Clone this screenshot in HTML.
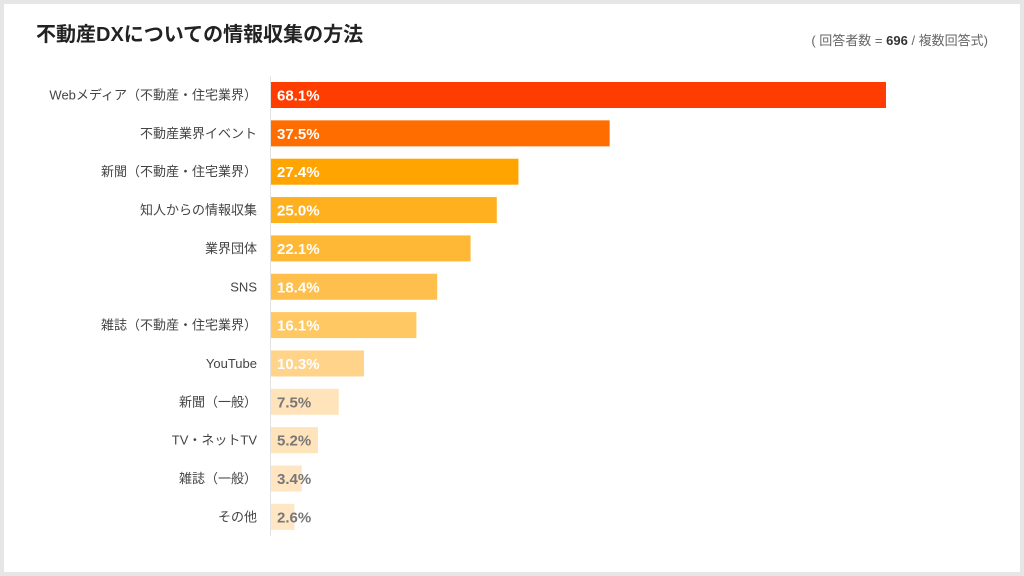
<!DOCTYPE html>
<html><head><meta charset="utf-8"><style>
body{margin:0;width:1024px;height:576px;background:#e6e6e6;font-family:"Liberation Sans","Noto Sans CJK JP",sans-serif;overflow:hidden}
#card{position:absolute;left:4px;top:4px;width:1016px;height:568px;background:#fff}
</style></head><body>
<div id="card">
<svg id="chart" width="1024" height="576" style="position:absolute;left:-4px;top:-4px">
<text x="36" y="41" font-size="20" font-weight="bold" fill="#222">不動産DXについての情報収集の方法</text>
<text x="988" y="45" font-size="13" fill="#666" text-anchor="end">( 回答者数 = <tspan font-weight="bold" fill="#333">696</tspan> / 複数回答式)</text>
<line x1="270.5" y1="76" x2="270.5" y2="536" stroke="#e2e2e2"/>
<g id="bars"></g>
</svg>
</div>
<script>
const categories=["Webメディア（不動産・住宅業界）","不動産業界イベント","新聞（不動産・住宅業界）","知人からの情報収集","業界団体","SNS","雑誌（不動産・住宅業界）","YouTube","新聞（一般）","TV・ネットTV","雑誌（一般）","その他"];
const values=[68.1,37.5,27.4,25.0,22.1,18.4,16.1,10.3,7.5,5.2,3.4,2.6];
const colors=["#ff3d00","#ff6d00","#ffa400","#ffb01e","#ffb836","#ffbf4c","#ffc863","#ffd38a","#ffe3bb","#ffe3bb","#ffe5c2","#ffe7c6"];
const x0=271,scale=615/68.1,y0=82,pitch=38.35,bh=26;
const g=document.getElementById('bars');const ns='http://www.w3.org/2000/svg';
categories.forEach((c,i)=>{
 const y=y0+i*pitch;
 const r=document.createElementNS(ns,'rect');
 r.setAttribute('x',x0);r.setAttribute('y',y);r.setAttribute('width',values[i]*scale);r.setAttribute('height',bh);r.setAttribute('fill',colors[i]);
 
 
 g.appendChild(r);
 const l=document.createElementNS(ns,'text');
 l.setAttribute('x',257);l.setAttribute('y',y+bh/2+4.5);l.setAttribute('text-anchor','end');l.setAttribute('font-size','13');l.setAttribute('fill','#444');
 l.textContent=c;
 
 
 g.appendChild(l);
 const v=document.createElementNS(ns,'text');
 v.setAttribute('x',x0+6);v.setAttribute('y',y+bh/2+5.5);v.setAttribute('font-size','15');v.setAttribute('font-weight','bold');
 v.setAttribute('fill',i<8?'#fff':'#777');
 v.textContent=values[i].toFixed(1)+'%';
 
 
 g.appendChild(v);
});
</script>
</body></html>
